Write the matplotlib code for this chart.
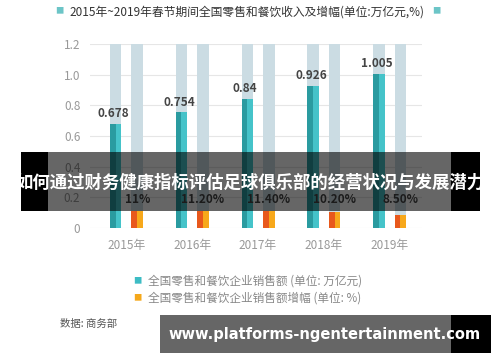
import matplotlib.pyplot as plt
from matplotlib.patches import Rectangle
import numpy as np

plt.rcParams['font.family'] = ['Noto Sans CJK SC', 'DejaVu Sans']

years = ['2015年', '2016年', '2017年', '2018年', '2019年']
sales = [0.678, 0.754, 0.84, 0.926, 1.005]
growth = [11.0, 11.2, 11.4, 10.2, 8.5]
growth_labels = ['11%', '11.20%', '11.40%', '10.20%', '8.50%']
yticks = [0, 0.2, 0.4, 0.6, 0.8, 1.0, 1.2]
ytick_labels = ['0', '0.2', '0.4', '0.6', '0.8', '1.0', '1.2']

title = '2015年~2019年春节期间全国零售和餐饮收入及增幅(单位:万亿元,%)'
legend1 = '全国零售和餐饮企业销售额 (单位: 万亿元)'
legend2 = '全国零售和餐饮企业销售额增幅 (单位: %)'
source = '数据: 商务部'
banner = '如何通过财务健康指标评估足球俱乐部的经营状况与发展潜力'
site = 'www.platforms-ngentertainment.com'

teal_dark, teal_light = '#2a9ba0', '#45c3c9'
orange_dark, orange_light = '#e8581c', '#f7a81b'
bg_bar = '#cbdce3'

fig = plt.figure(figsize=(5, 3.62), dpi=100)
ax = fig.add_axes([0.18, 0.370, 0.664, 0.5083])

x = np.arange(len(years))
w = 0.175
off = 0.1635
ymax = 1.2

# background full-height bars
ax.bar(x - off, [ymax] * len(x), w, color=bg_bar, zorder=1)
ax.bar(x + off, [ymax] * len(x), w, color=bg_bar, zorder=1)

# two-tone sales bars
ax.bar(x - off - w / 4, sales, w / 2, color=teal_dark, zorder=2)
ax.bar(x - off + w / 4, sales, w / 2, color=teal_light, zorder=2)

g = np.array(growth) / 100
ax.bar(x + off - w / 4, g, w / 2, color=orange_dark, zorder=2)
ax.bar(x + off + w / 4, g, w / 2, color=orange_light, zorder=2)

for xi, v in zip(x, sales):
    ax.text(xi - off - 0.03, v + 0.025, str(v), ha='center', va='bottom',
            fontsize=8.5, color='#444444', fontweight='bold', zorder=3)
for xi, lbl in zip(x, growth_labels):
    ax.text(xi + off, 0.185, lbl, ha='center', va='center',
            fontsize=8.5, color='#444444', fontweight='semibold', zorder=3)

ax.set_xlim(-0.555, 4.494)
ax.set_ylim(0, ymax)
ax.set_yticks(yticks)
ax.set_yticklabels(ytick_labels)
ax.set_xticks(x)
ax.set_xticklabels(years)
ax.tick_params(axis='both', length=0, labelsize=8.5, labelcolor='#999999')
ax.tick_params(axis='y', pad=7)
ax.tick_params(axis='x', pad=8)
ax.grid(axis='y', color='#e6e6e6', linewidth=0.8, zorder=0)
ax.set_axisbelow(True)
for s in ax.spines.values():
    s.set_visible(False)

# title with square markers
fig.text(0.118, 0.970, '■', color='#6cc5c7', fontsize=6, ha='center', va='center')
fig.text(0.138, 0.968, title, color='#333333', fontsize=8.5, ha='left', va='center')
fig.text(0.872, 0.970, '■', color='#6cc5c7', fontsize=6, ha='center', va='center')

# legend
fig.text(0.274, 0.223, '■', color='#3dbcc4', fontsize=6, ha='center', va='center')
fig.text(0.296, 0.223, legend1, color='#888888', fontsize=8.4, ha='left', va='center')
fig.text(0.274, 0.177, '■', color='#f5a81b', fontsize=6, ha='center', va='center')
fig.text(0.296, 0.177, legend2, color='#888888', fontsize=8.4, ha='left', va='center')

fig.text(0.12, 0.105, source, color='#555555', fontsize=7.5, ha='left', va='center',
         family=['Noto Sans CJK SC'])

# overlay banner
H = 362.0
def rect(x0, y0, x1, y1, **kw):
    fig.patches.append(Rectangle((x0 / 500, 1 - y1 / H), (x1 - x0) / 500, (y1 - y0) / H,
                                 transform=fig.transFigure, linewidth=0, **kw))

rect(21, 152, 48, 211, facecolor='black', zorder=5)
rect(451, 152, 480, 211, facecolor='black', zorder=5)
rect(48, 152, 451, 211, facecolor='black', alpha=0.6, zorder=5)
fig.text(0.5, 1 - 183 / H, banner, color='white', fontsize=12.5, fontweight='bold',
         ha='center', va='center', zorder=6)

rect(160, 315, 451, 353, facecolor='black', alpha=0.6, zorder=5)
rect(451, 315, 491, 353, facecolor='black', zorder=5)
fig.text(325 / 500, 1 - 334 / H, site, color='white', fontsize=10.5, fontweight='bold',
         ha='center', va='center', zorder=6, family=['DejaVu Sans'])

fig.savefig('out.png', dpi=100, facecolor='white')
